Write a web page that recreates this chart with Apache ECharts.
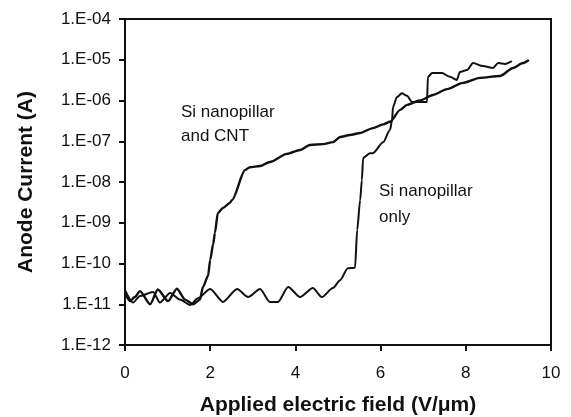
<!DOCTYPE html>
<html>
<head>
<meta charset="utf-8">
<title>Anode current vs applied field</title>
<script src="https://cdn.jsdelivr.net/npm/echarts@6/dist/echarts.min.js"></script>
<style>
html, body { margin: 0; padding: 0; background: #fff; }
#main { width: 571px; height: 417px; }
</style>
</head>
<body>
<div id="main"></div>
<script>
// Si nanopillar and CNT
var cntX = [0, 0.12, 0.23, 0.35, 0.59, 0.77, 1.01, 1.22, 1.41, 1.6, 1.76, 1.83, 1.95, 2.0, 2.07, 2.11, 2.18, 2.3, 2.46, 2.51, 2.82, 2.93, 3.17, 3.4, 3.8, 4.11, 4.34, 4.65, 4.88, 5.05, 5.28, 5.52, 5.82, 6.06, 6.22, 6.46, 6.62, 6.92, 7.23, 7.56, 7.93, 8.33, 8.8, 9.11, 9.34, 9.48];
var cntY = [1.9e-11, 1.2e-11, 1.5e-11, 2.1e-11, 1.0e-11, 2.3e-11, 1.2e-11, 2.4e-11, 1.3e-11, 1.0e-11, 1.3e-11, 2.65e-11, 5e-11, 1.23e-10, 3e-10, 5.6e-10, 1.74e-9, 2.3e-9, 3.05e-9, 3.6e-9, 1.97e-8, 2.3e-8, 2.46e-8, 3.1e-8, 4.9e-8, 6.1e-8, 8.1e-8, 8.5e-8, 9.5e-8, 1.27e-7, 1.42e-7, 1.6e-7, 2.1e-7, 2.6e-7, 3.0e-7, 5.9e-7, 7.8e-7, 1.0e-6, 1.37e-6, 1.9e-6, 2.7e-6, 3.6e-6, 4.0e-6, 6.3e-6, 8.3e-6, 9.9e-6];

// Si nanopillar only
var onlyX = [0, 0.19, 0.35, 0.66, 0.82, 1.06, 1.29, 1.53, 1.71, 2.0, 2.3, 2.63, 2.89, 3.17, 3.4, 3.59, 3.83, 4.11, 4.41, 4.62, 4.88, 5.05, 5.23, 5.4, 5.45, 5.52, 5.56, 5.59, 5.75, 5.82, 6.06, 6.22, 6.27, 6.29, 6.38, 6.5, 6.62, 6.74, 6.85, 7.09, 7.11, 7.21, 7.44, 7.63, 7.79, 7.86, 8.03, 8.17, 8.4, 8.64, 8.76, 8.92, 9.08];
var onlyY = [2.2e-11, 1.1e-11, 1.6e-11, 2.0e-11, 1.1e-11, 1.9e-11, 1.3e-11, 9.6e-12, 1.4e-11, 2.37e-11, 1.14e-11, 2.37e-11, 1.5e-11, 2.37e-11, 1.14e-11, 1.14e-11, 2.65e-11, 1.5e-11, 2.5e-11, 1.5e-11, 2.5e-11, 3.9e-11, 7.7e-11, 7.9e-11, 6.6e-10, 3.6e-9, 1.1e-8, 3.9e-8, 5.1e-8, 5.1e-8, 9.5e-8, 1.9e-7, 3.3e-7, 6.9e-7, 1.2e-6, 1.5e-6, 1.3e-6, 9.2e-7, 9.2e-7, 9.2e-7, 3.8e-6, 4.7e-6, 4.7e-6, 3.8e-6, 3.2e-6, 5.0e-6, 5.6e-6, 8.3e-6, 7.0e-6, 6.3e-6, 8.3e-6, 7.9e-6, 9.3e-6];

var xTicks = [0, 2, 4, 6, 8, 10];

function pairs(xs, ys) {
	var out = [];
	for (var i = 0; i < xs.length; i++) {
		out.push([xs[i], ys[i]]);
	}
	return out;
}

// 1.E-04 style labels
function expLabel(v) {
	var e = Math.round(Math.log(v) / Math.LN10);
	var a = Math.abs(e);
	return '1.E' + (e < 0 ? '-' : '+') + (a < 10 ? '0' + a : a);
}

var font = 'Liberation Sans, Arial, sans-serif';

var option = {
	backgroundColor: '#fff',
	animation: false,
	grid: {
		left: 125,
		right: 20,
		top: 19,
		bottom: 72,
		outerBoundsMode: 'none',
		show: true,
		borderColor: '#111',
		borderWidth: 2
	},
	xAxis: {
		type: 'value',
		min: xTicks[0],
		max: xTicks[xTicks.length - 1],
		interval: 2,
		name: 'Applied electric field (V/\u03bcm)',
		nameLocation: 'middle',
		nameGap: 50,
		nameTextStyle: { fontFamily: font, fontSize: 21, fontWeight: 'bold', color: '#111' },
		axisLine: { lineStyle: { color: '#111', width: 2 } },
		axisTick: { show: true, inside: false, length: 6, lineStyle: { color: '#111', width: 2 } },
		axisLabel: { margin: 20, fontFamily: font, fontSize: 17, color: '#111' },
		splitLine: { show: false }
	},
	yAxis: {
		type: 'log',
		logBase: 10,
		min: 1e-12,
		max: 1e-4,
		splitNumber: 8,
		name: 'Anode Current (A)',
		nameLocation: 'middle',
		nameGap: 88,
		nameTextStyle: { fontFamily: font, fontSize: 21, fontWeight: 'bold', color: '#111' },
		axisLine: { show: true, lineStyle: { color: '#111', width: 2 } },
		axisTick: { show: true, inside: false, length: 6, lineStyle: { color: '#111', width: 2 } },
		axisLabel: { margin: 14, fontFamily: font, fontSize: 17, color: '#111', formatter: expLabel },
		splitLine: { show: false },
		minorTick: { show: false }
	},
	series: [{
		name: 'Si nanopillar and CNT',
		type: 'line',
		showSymbol: false,
		smooth: 0.25,
		smoothMonotone: 'x',
		data: pairs(cntX, cntY),
		lineStyle: { color: '#111', width: 2.4 }
	}, {
		name: 'Si nanopillar only',
		type: 'line',
		showSymbol: false,
		smooth: 0.25,
		smoothMonotone: 'x',
		data: pairs(onlyX, onlyY),
		lineStyle: { color: '#111', width: 2 }
	}],
	graphic: [{
		type: 'text',
		left: 181,
		top: 100,
		style: { text: 'Si nanopillar\nand CNT', fontFamily: font, fontSize: 17, lineHeight: 24, fill: '#111' }
	}, {
		type: 'text',
		left: 379,
		top: 178,
		style: { text: 'Si nanopillar\nonly', fontFamily: font, fontSize: 17, lineHeight: 26, fill: '#111' }
	}]
};

var chart = echarts.init(document.getElementById('main'));
chart.setOption(option);
</script>
</body>
</html>
